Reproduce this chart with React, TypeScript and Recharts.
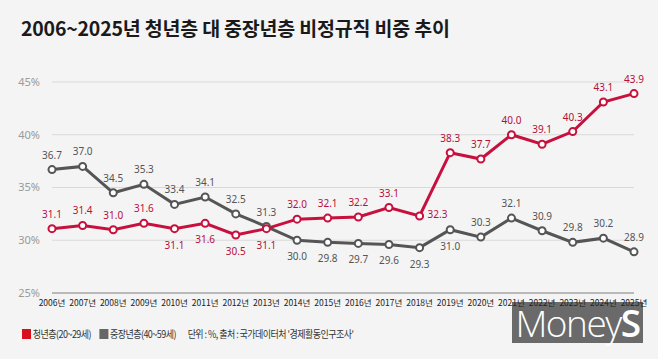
import React from "react";
import { LineChart, Line, XAxis, YAxis, CartesianGrid } from "recharts";

const years = ["2006년","2007년","2008년","2009년","2010년","2011년","2012년","2013년","2014년","2015년","2016년","2017년","2018년","2019년","2020년","2021년","2022년","2023년","2024년","2025년"];
const youth = [31.1,31.4,31.0,31.6,31.1,31.6,30.5,31.1,32.0,32.1,32.2,33.1,32.3,38.3,37.7,40.0,39.1,40.3,43.1,43.9];
const middle = [36.7,37.0,34.5,35.3,33.4,34.1,32.5,31.3,30.0,29.8,29.7,29.6,29.3,31.0,30.3,32.1,30.9,29.8,30.2,28.9];
const youthLabelPos = ["t","t","t","t","b","b","b","b","t","t","t","t","r","t","t","t","t","t","t","t"];
const middleLabelPos = ["t","t","t","t","t","t","t","t","b","b","b","b","b","b","t","t","t","t","t","t"];
const yTicks = [25, 30, 35, 40, 45];

const data = years.map((y, i) => ({ year: y, youth: youth[i], middle: middle[i] }));

const RED = "#c8103e";
const GRAY = "#555555";

const makeLabel = (pos: string[], color: string) => (props: any) => {
  const { x, y, value, index } = props;
  const p = pos[index];
  let tx = x, ty = y - 11, anchor = "middle";
  if (p === "b") ty = y + 20;
  if (p === "r") { tx = x + 8; ty = y + 2; anchor = "start"; }
  return (
    <text x={tx} y={ty} fill={color} fontSize={10} textAnchor={anchor} fontFamily="'Noto Sans', sans-serif">
      {Number(value).toFixed(1)}
    </text>
  );
};

export default function App() {
  return (
    <div style={{ position: "absolute", left: 0, top: 0, width: 658, height: 359, background: "#f4f4f4", overflow: "hidden", fontFamily: "'Noto Sans CJK KR', sans-serif" }}>
      <div style={{ position: "absolute", left: 512, top: 302, width: 131, height: 41, background: "#6a6a6a", color: "#fff", fontFamily: "'Open Sans', sans-serif", fontWeight: 300, fontSize: 37, lineHeight: "41px", textAlign: "center", letterSpacing: -1.5, whiteSpace: "nowrap" }}>
        Money<span style={{ fontWeight: 600 }}>S</span>
      </div>
      <div style={{ position: "absolute", left: 21, top: 13, fontSize: 19.5, fontWeight: 700, color: "#1a1a1a", letterSpacing: -0.2, whiteSpace: "nowrap" }}>
        2006~2025년 청년층 대 중장년층 비정규직 비중 추이
      </div>
      <div style={{ position: "absolute", left: 0, top: 0 }}>
        <LineChart width={658} height={359} data={data} margin={{ top: 82, right: 24, bottom: 46, left: 0 }}>
          <CartesianGrid vertical={false} stroke="#d9d9d9" />
          <XAxis dataKey="year" axisLine={{ stroke: "#aaaaaa", strokeWidth: 1.5 }} tickLine={false} tickSize={0} tickMargin={7} interval={0}
            tick={{ fontSize: 8.5, fill: "#222", fontFamily: "'Noto Sans CJK KR', sans-serif" }} height={20} />
          <YAxis domain={[25, 45]} ticks={yTicks} axisLine={false} tickLine={false} tickSize={0} tickMargin={12} width={52}
            tickFormatter={(v: number) => `${v}%`} tick={{ fontSize: 11, fill: "#9a9a9a", fontFamily: "'Noto Sans', sans-serif" }} />
          <Line dataKey="middle" stroke={GRAY} strokeWidth={3} isAnimationActive={false}
            dot={{ r: 3.5, fill: "#fff", stroke: GRAY, strokeWidth: 2 }} label={makeLabel(middleLabelPos, "#555")} />
          <Line dataKey="youth" stroke={RED} strokeWidth={3} isAnimationActive={false}
            dot={{ r: 3.5, fill: "#fff", stroke: RED, strokeWidth: 2 }} label={makeLabel(youthLabelPos, "#b5103a")} />
        </LineChart>
      </div>
      <div style={{ position: "absolute", left: 22, top: 326, fontSize: 10, color: "#333", whiteSpace: "nowrap", display: "flex", alignItems: "center", letterSpacing: -0.6, transform: "scaleX(0.9)", transformOrigin: "left center" }}>
        <span style={{ display: "inline-block", width: 10, height: 10, background: "#d8101e", marginRight: 2 }} />
        <span>청년층(20~29세)</span>
        <span style={{ display: "inline-block", width: 10, height: 10, background: "#666", marginLeft: 9, marginRight: 2 }} />
        <span>중장년층(40~59세)</span>
        <span style={{ marginLeft: 13 }}>단위 : %, 출처 : 국가데이터처 '경제활동인구조사'</span>
      </div>
    </div>
  );
}
